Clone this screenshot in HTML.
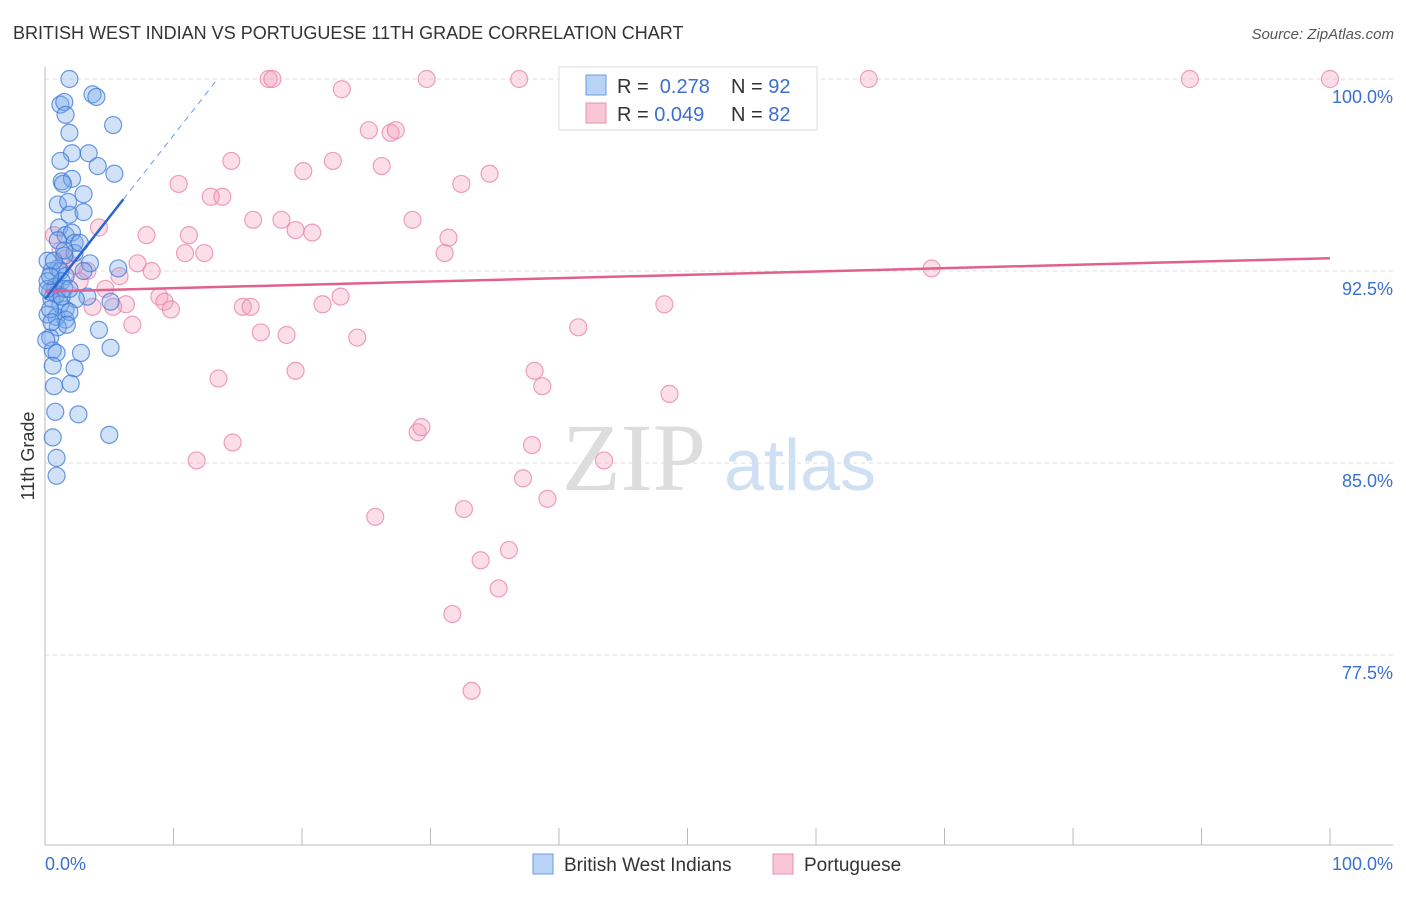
<!DOCTYPE html>
<html><head><meta charset="utf-8"><style>
body{margin:0;background:#fff;font-family:"Liberation Sans",sans-serif;}
</style></head><body>
<svg id="chart" width="1406" height="892" xmlns="http://www.w3.org/2000/svg" font-family="Liberation Sans, sans-serif">
<text x="13" y="39" font-size="18" fill="#333">BRITISH WEST INDIAN VS PORTUGUESE 11TH GRADE CORRELATION CHART</text>
<text x="1394" y="39" font-size="15" fill="#555" text-anchor="end" font-style="italic">Source: ZipAtlas.com</text>
<text x="34" y="456" font-size="18" fill="#333" text-anchor="middle" transform="rotate(-90 34 456)">11th Grade</text>
<g><text x="634" y="490" font-size="96" font-family="Liberation Serif, serif" fill="#ddd" text-anchor="middle">ZIP</text><text x="800" y="490" font-size="72" fill="#cfe0f4" text-anchor="middle">atlas</text></g>
<g id="grid"></g><g id="axes"></g><g id="marks"></g>
<g>
<rect x="559" y="67" width="258" height="63" fill="#fff" stroke="#ddd"/>
<rect x="586" y="75" width="20" height="20" fill="#b8d3f5" stroke="#6a9be0"/>
<rect x="586" y="103" width="20" height="20" fill="#f9c6d6" stroke="#e890ad"/>
<text x="617" y="93" font-size="20" fill="#333">R = <tspan fill="#3a6fd0">&#160;0.278</tspan><tspan x="731">N = </tspan><tspan fill="#3a6fd0">92</tspan></text>
<text x="617" y="121" font-size="20" fill="#333">R = <tspan fill="#3a6fd0">0.049</tspan><tspan x="731">N = </tspan><tspan fill="#3a6fd0">82</tspan></text>
</g>
<g>
<rect x="533" y="854" width="20" height="20" fill="#b8d3f5" stroke="#6a9be0"/>
<text x="564" y="871" font-size="19" fill="#333">British West Indians</text>
<rect x="773" y="854" width="20" height="20" fill="#f9c6d6" stroke="#e890ad"/>
<text x="804" y="871" font-size="19" fill="#333">Portuguese</text>
</g>
</svg>
<script>
const yTicks=[100,92.5,85,77.5];
const yTickLabels=["100.0%","92.5%","85.0%","77.5%"];
const xTickLabels=["0.0%","100.0%"];
const blueX=[1.9,1.2,1.5,1.6,3.7,4.0,5.3,1.9,2.1,3.4,1.2,4.1,5.4,1.3,2.1,3.0,1.4,1.0,1.8,1.9,3.0,1.1,1.6,2.1,2.3,2.3,1.5,3.5,5.7,0.5,1.0,1.2,1.6,3.0,0.2,0.8,1.3,0.4,0.9,1.5,3.3,2.4,0.5,1.2,1.6,0.2,0.9,1.6,1.9,5.1,1.0,1.7,4.2,0.4,0.6,0.9,2.8,5.1,0.6,2.3,2.0,0.7,0.8,2.6,5.0,0.6,0.9,0.9,0.2,0.2,0.4,0.5,0.1,1.3,0.7,1.9,1.0,1.5,2.7,0.4];
const blueY=[100,99.0,99.1,98.6,99.4,99.3,98.2,97.9,97.1,97.1,96.8,96.6,96.3,96.0,96.1,95.5,95.9,95.1,95.2,94.7,94.8,94.2,93.9,94.0,93.6,93.2,93.1,92.8,92.6,92.5,92.6,92.5,92.3,92.5,92.1,91.9,92.1,91.7,91.6,91.8,91.5,91.4,91.4,91.2,91.0,90.8,90.7,90.6,90.9,91.3,90.3,90.4,90.2,89.9,89.4,89.3,89.3,89.5,88.8,88.7,88.1,88.0,87.0,86.9,86.1,86.0,85.2,84.5,92.9,91.8,91.0,90.5,89.8,91.5,92.9,91.8,93.7,93.3,93.6,92.3];
const pinkX=[17.4,17.7,29.7,36.9,54.2,64.1,89.1,100,23.1,25.2,26.9,27.3,14.5,22.4,26.2,10.4,20.1,32.4,34.6,12.9,13.8,16.2,18.4,28.6,19.5,20.8,0.7,4.2,7.9,11.2,31.4,12.4,10.9,31.1,1.6,7.2,8.3,3.3,5.8,69.0,4.7,8.9,9.3,6.3,3.7,9.8,15.4,16.0,21.6,23.0,48.2,6.8,16.8,18.8,24.3,41.5,19.5,38.1,13.5,38.7,48.6,29.0,29.3,14.6,37.9,11.8,43.5,37.2,39.1,25.7,32.6,36.1,33.9,35.3,31.7,33.2,1.2,0.8,2.7,5.3,2.3];
const pinkY=[100,100,100,100,100,100,100,100,99.6,98.0,97.9,98.0,96.8,96.8,96.6,95.9,96.4,95.9,96.3,95.4,95.4,94.5,94.5,94.5,94.1,94.0,93.9,94.2,93.9,93.9,93.8,93.2,93.2,93.2,93.0,92.8,92.5,92.5,92.3,92.6,91.8,91.5,91.3,91.2,91.1,91.0,91.1,91.1,91.2,91.5,91.2,90.4,90.1,90.0,89.9,90.3,88.6,88.6,88.3,88.0,87.7,86.2,86.4,85.8,85.7,85.1,85.1,84.4,83.6,82.9,83.2,81.6,81.2,80.1,79.1,76.1,93.3,91.8,92.1,91.1,92.7];
const blueTrend=[91.4,0.64];
const pinkTrend=[91.7,0.013];
const NS="http://www.w3.org/2000/svg";
const X=v=>45+v*12.85, Y=v=>79+(100-v)*25.6;
function mk(p,t,a){const e=document.createElementNS(NS,t);for(const k in a)e.setAttribute(k,a[k]);p.appendChild(e);return e;}
const grid=document.getElementById('grid'),axes=document.getElementById('axes'),marks=document.getElementById('marks');
yTicks.forEach((t,i)=>{
 const l=mk(grid,'line',{x1:45,x2:1393,y1:Y(t),y2:Y(t),stroke:'#ddd','stroke-dasharray':'4,4'});
 
 
 const tx=mk(axes,'text',{x:1393,y:Y(t)+24,'font-size':18,fill:'#3a6fd0','text-anchor':'end'});tx.textContent=yTickLabels[i];
 
 
});
mk(axes,'line',{x1:45,x2:45,y1:67,y2:845,stroke:'#bbb'});
mk(axes,'line',{x1:45,x2:1393,y1:845,y2:845,stroke:'#bbb'});
for(let i=0;i<=10;i++){mk(axes,'line',{x1:X(i*10),x2:X(i*10),y1:828,y2:845,stroke:'#bbb'});}
[[0,45,'start'],[1,1393,'end']].forEach(([i,x,a])=>{const t=mk(axes,'text',{x:x,y:870,'font-size':18,fill:'#3a6fd0','text-anchor':a});t.textContent=xTickLabels[i];
 
 });
pinkX.forEach((x,i)=>{const c=mk(marks,'circle',{cx:X(x),cy:Y(pinkY[i]),r:8.5,fill:'rgba(244,160,190,0.35)',stroke:'rgba(232,130,165,0.75)','stroke-width':1.2});
 
 });
blueX.forEach((x,i)=>{const c=mk(marks,'circle',{cx:X(x),cy:Y(blueY[i]),r:8.5,fill:'rgba(120,170,235,0.35)',stroke:'rgba(60,120,215,0.75)','stroke-width':1.2});
 
 });
const pt=mk(marks,'line',{x1:X(0),y1:Y(pinkTrend[0]),x2:X(100),y2:Y(pinkTrend[0]+pinkTrend[1]*100),stroke:'#e0608f','stroke-width':2.5});


const bx=6.1,bxe=(100-blueTrend[0])/blueTrend[1];
const bt=mk(marks,'line',{x1:X(0),y1:Y(blueTrend[0]),x2:X(bx),y2:Y(blueTrend[0]+blueTrend[1]*bx),stroke:'#2a66d0','stroke-width':2.5});


const bd=mk(marks,'line',{x1:X(bx),y1:Y(blueTrend[0]+blueTrend[1]*bx),x2:X(bxe),y2:Y(100),stroke:'#6a9be0','stroke-width':1,'stroke-dasharray':'6,5'});


</script>
</body></html>
